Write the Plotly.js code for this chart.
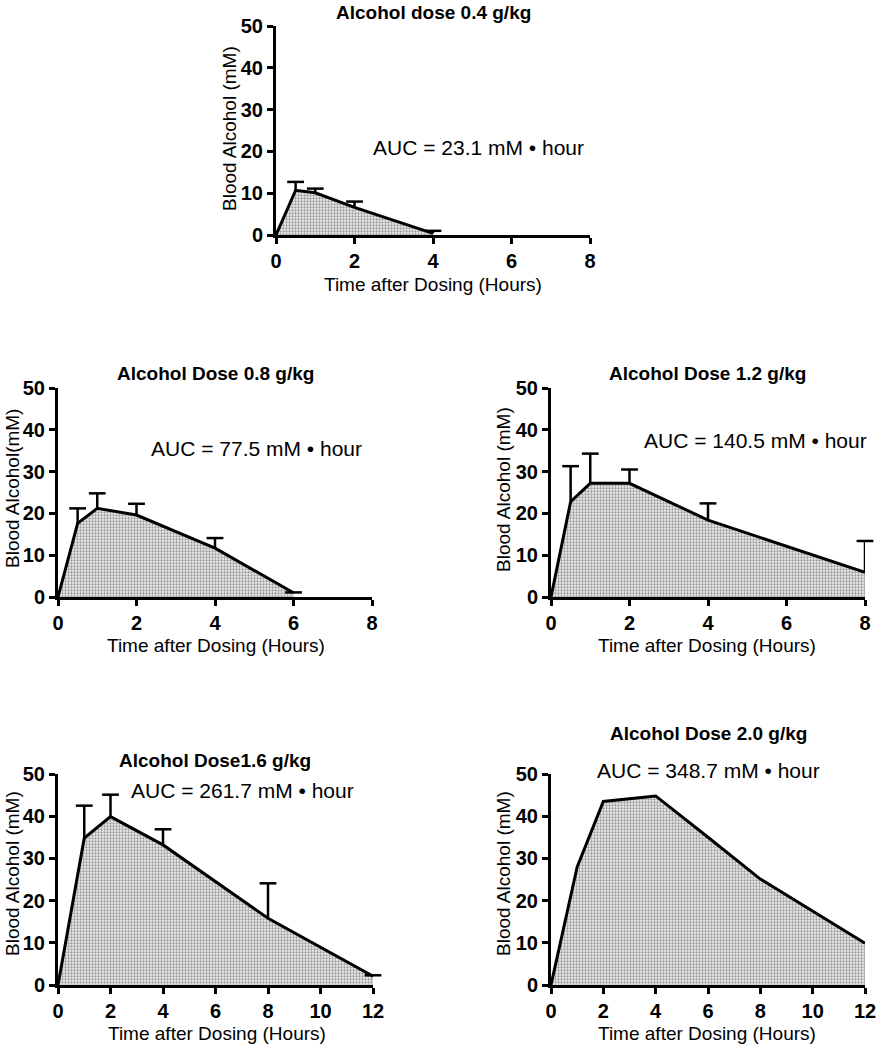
<!DOCTYPE html>
<html>
<head>
<meta charset="utf-8">
<script src="https://cdn.plot.ly/plotly-3.0.1.min.js"></script>
<style>html,body{margin:0;padding:0;background:#fff;}</style>
</head>
<body>
<div id="chart" style="width:879px;height:1050px;"></div>
<script>
// ---- data ----
const time04 = [0, 0.5, 1, 2, 4];
const mean04 = [0, 10.7, 10.1, 6.6, 0.4];
const upper04 = [0, 12.7, 11.1, 8.0, 1.0];

const time08 = [0, 0.5, 1, 2, 4, 6];
const mean08 = [0, 17.6, 21.2, 19.6, 11.7, 1.0];
const upper08 = [0, 21.2, 24.8, 22.3, 14.1, 1.1];

const time12 = [0, 0.5, 1, 2, 4, 8];
const mean12 = [0, 22.8, 27.2, 27.2, 18.4, 5.9];
const upper12 = [0, 31.3, 34.3, 30.5, 22.4, 13.4];

const time16 = [0, 1, 2, 4, 8, 12];
const mean16 = [0, 34.8, 39.9, 33.2, 15.8, 2.1];
const upper16 = [0, 42.5, 45.1, 36.9, 24.1, 2.3];

const time20 = [0, 1, 2, 4, 6, 8, 12];
const mean20 = [0, 28.0, 43.5, 44.8, 35.0, 25.1, 9.9];

const panelTitles = ["Alcohol dose 0.4 g/kg", "Alcohol Dose 0.8 g/kg", "Alcohol Dose 1.2 g/kg", "Alcohol Dose1.6 g/kg", "Alcohol Dose 2.0 g/kg"];
const aucLabels = ["AUC = 23.1 mM \u2022 hour", "AUC = 77.5 mM \u2022 hour", "AUC = 140.5 mM \u2022 hour", "AUC = 261.7 mM \u2022 hour", "AUC = 348.7 mM \u2022 hour"];
const yTitles = ["Blood Alcohol (mM)", "Blood Alcohol(mM)", "Blood Alcohol (mM)", "Blood Alcohol (mM)", "Blood Alcohol (mM)"];
const xTitle = "Time after Dosing (Hours)";
const xMax = [8, 8, 8, 12, 12];
const yTicks = [0, 10, 20, 30, 40, 50];

// ---- layout geometry (pixels) ----
const W = 879, H = 1050;
const boxes = [
  {x0: 276, x1: 590, y0: 26, y1: 235},
  {x0: 58, x1: 372, y0: 388, y1: 597},
  {x0: 551, x1: 865, y0: 388, y1: 597},
  {x0: 58, x1: 373, y0: 774, y1: 985},
  {x0: 551, x1: 865, y0: 774, y1: 985}
];
const titlePos = [[433, 12], [215, 373], [707, 373], [215, 760], [708, 733]];
const aucPos = [[478, 147], [256, 448], [755, 440], [242, 790], [708, 770]];
const xTitlePos = [[433, 284], [216, 645], [707, 645], [217, 1033], [707, 1033]];
const yTitlePos = [[229, 129], [12, 489], [503, 490], [12, 874], [503, 874]];

const series = [
  [time04, mean04, upper04],
  [time08, mean08, upper08],
  [time12, mean12, upper12],
  [time16, mean16, upper16],
  [time20, mean20, null]
];

const FONT = 'Arial, "Liberation Sans", Helvetica, sans-serif';
const fx = p => p / W;
const fy = p => 1 - p / H;

const traces = [];
const layout = {
  width: W, height: H,
  margin: {l: 0, r: 0, t: 0, b: 0},
  paper_bgcolor: '#ffffff', plot_bgcolor: 'rgba(0,0,0,0)',
  showlegend: false,
  font: {family: FONT, color: '#000'},
  annotations: []
};

series.forEach((s, i) => {
  const n = i + 1;
  const xa = n === 1 ? 'x' : 'x' + n;
  const ya = n === 1 ? 'y' : 'y' + n;
  traces.push({
    type: 'scatter', mode: 'lines',
    x: s[0], y: s[1],
    xaxis: xa, yaxis: ya,
    line: {color: '#000', width: 3},
    fill: 'tozeroy',
    fillcolor: '#d6d6d6',
    fillpattern: {shape: '.', fgcolor: '#9a9a9a', bgcolor: '#ededed', size: 3, solidity: 0.45},
    cliponaxis: false,
    hoverinfo: 'skip'
  });
  if (s[2]) {
    // upper-only error bars: stem from mean to upper, cap at upper
    const ex = [], ey = [], cx = [], cy = [];
    s[0].forEach((t, k) => {
      if (s[2][k] > s[1][k]) {
        ex.push(t, t, null); ey.push(s[1][k], s[2][k], null);
        cx.push(t); cy.push(s[2][k]);
      }
    });
    traces.push({
      type: 'scatter', mode: 'lines', x: ex, y: ey, xaxis: xa, yaxis: ya,
      line: {color: '#000', width: 2.5}, cliponaxis: false, hoverinfo: 'skip'
    });
    traces.push({
      type: 'scatter', mode: 'markers', x: cx, y: cy, xaxis: xa, yaxis: ya,
      marker: {symbol: 'line-ew', size: 12, color: '#000', line: {color: '#000', width: 2.5}},
      cliponaxis: false, hoverinfo: 'skip'
    });
  }

  const b = boxes[i];
  const axBase = {
    showgrid: false, zeroline: false,
    showline: true, linecolor: '#000', linewidth: 3,
    ticks: 'outside', ticklen: 6, tickwidth: 3, tickcolor: '#000',
    tickfont: {size: 20, family: FONT, color: '#000', weight: 'bold'},
    fixedrange: true
  };
  layout['xaxis' + (n === 1 ? '' : n)] = Object.assign({}, axBase, {
    domain: [fx(b.x0), fx(b.x1)], anchor: ya,
    range: [0, xMax[i]], tickmode: 'linear', tick0: 0, dtick: 2
  });
  layout['yaxis' + (n === 1 ? '' : n)] = Object.assign({}, axBase, {
    domain: [fy(b.y1), fy(b.y0)], anchor: xa,
    range: [0, 50], tickmode: 'array', tickvals: yTicks, ticktext: yTicks.map(String)
  });

  layout.annotations.push({
    xref: 'paper', yref: 'paper', x: fx(titlePos[i][0]), y: fy(titlePos[i][1]),
    xanchor: 'center', yanchor: 'middle', showarrow: false,
    text: panelTitles[i], font: {size: 19, weight: 'bold', color: '#000'}
  });
  layout.annotations.push({
    xref: 'paper', yref: 'paper', x: fx(aucPos[i][0]), y: fy(aucPos[i][1]),
    xanchor: 'center', yanchor: 'middle', showarrow: false,
    text: aucLabels[i], font: {size: 21, color: '#000'}
  });
  layout.annotations.push({
    xref: 'paper', yref: 'paper', x: fx(xTitlePos[i][0]), y: fy(xTitlePos[i][1]),
    xanchor: 'center', yanchor: 'middle', showarrow: false,
    text: xTitle, font: {size: 19, color: '#000'}
  });
  layout.annotations.push({
    xref: 'paper', yref: 'paper', x: fx(yTitlePos[i][0]), y: fy(yTitlePos[i][1]),
    xanchor: 'center', yanchor: 'middle', showarrow: false, textangle: -90,
    text: yTitles[i], font: {size: 19, color: '#000'}
  });
});

Plotly.newPlot('chart', traces, layout, {staticPlot: true, displayModeBar: false});
</script>
</body>
</html>
